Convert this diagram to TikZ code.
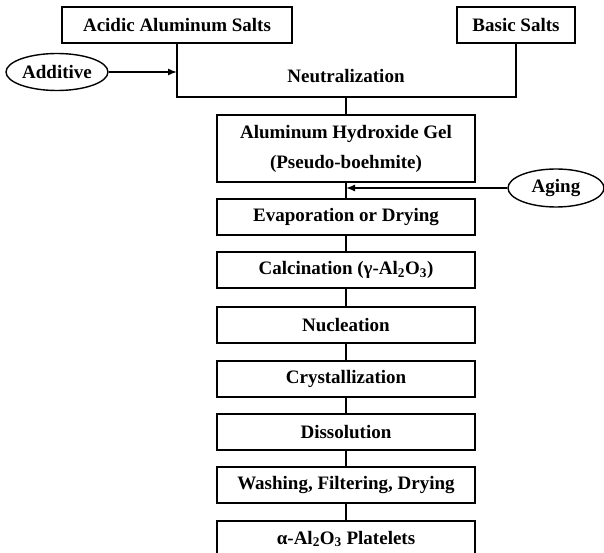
\documentclass[tikz,border=0pt]{standalone}
\usepackage{fontspec}
\setmainfont{Liberation Serif}
\usetikzlibrary{arrows.meta,shapes.geometric}
\begin{document}
\begin{tikzpicture}[x=1pt,y=-1pt,
  lbl/.style={font=\bfseries\fontsize{19}{30}\selectfont},
  box/.style={draw, line width=1.4pt, rectangle, minimum width=258pt, minimum height=36pt, inner sep=0pt, lbl},
  oval/.style={draw, line width=1.4pt, ellipse, inner sep=0pt, lbl},
  con/.style={line width=1.4pt},
  arr/.style={con, -{Latex[length=9pt,width=7pt]}}]
\useasboundingbox (0,0) rectangle (604,553);
\node[box, minimum width=230pt] (acid) at (177,25) {Acidic Aluminum Salts};
\node[box, minimum width=118pt] (basic) at (516,25) {Basic Salts};
\node[lbl] (neut) at (346,76) {Neutralization};
\coordinate (nb) at (346,97);
\node[oval, minimum width=102pt, minimum height=37pt] (add) at (57,72) {Additive};
\node[box, minimum height=67pt, align=center] (gel) at (346,148.5) {Aluminum Hydroxide Gel\\(Pseudo-boehmite)};
\node[oval, minimum width=96pt, minimum height=38pt] (age) at (556,188) {Aging};
\node[box] (evap) at (346,217) {Evaporation or Drying};
\node[box] (calc) at (346,270) {Calcination (γ-Al\textsubscript{2}O\textsubscript{3})};
\node[box] (nucl) at (346,325) {Nucleation};
\node[box] (cryst) at (346,379) {Crystallization};
\node[box] (diss) at (346,432) {Dissolution};
\node[box] (wash) at (346,485) {Washing, Filtering, Drying};
\node[box] (alpha) at (346,539) {α-Al\textsubscript{2}O\textsubscript{3} Platelets};
\draw[con] (acid.south) |- (nb) -| (basic.south);
\draw[con] (nb) -- (gel.north);
\draw[arr] (add.east) -- (add.east -| acid.south);
\draw[con] (gel.south) -- (evap.north);
\draw[arr] (age.west) -- (age.west -| gel.south);
\draw[con] (evap.south) -- (calc.north);
\draw[con] (calc.south) -- (nucl.north);
\draw[con] (nucl.south) -- (cryst.north);
\draw[con] (cryst.south) -- (diss.north);
\draw[con] (diss.south) -- (wash.north);
\draw[con] (wash.south) -- (alpha.north);
\end{tikzpicture}
\end{document}
